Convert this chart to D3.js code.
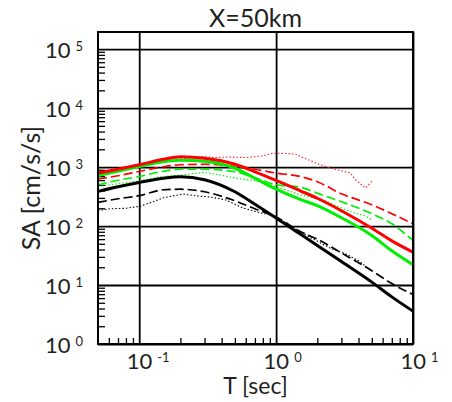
<!DOCTYPE html>
<html>
<head>
<meta charset="utf-8">
<script src="https://cdn.jsdelivr.net/npm/d3@7"></script>
<style>
  body { margin: 0; background: #fff; }
  text { font-family: Lato, "Open Sans", sans-serif; fill: #231f20; }
</style>
</head>
<body>
<div id="chart"></div>
<script>
// Periods for model curves (sec)
const periods = [0.05, 0.07, 0.1, 0.15, 0.2, 0.3, 0.5, 0.7, 1, 1.5, 2, 3, 5, 7, 10];

// Model spectra (cm/s/s)
const redSolid    = [791, 918, 1094, 1355, 1496, 1409, 1115, 832, 593, 396, 296, 182, 92, 56, 36];
const greenSolid  = [721, 849, 1023, 1230, 1304, 1253, 954, 646, 424, 284, 221, 138, 69, 38, 22];
const blackSolid  = [386, 463, 548, 646, 685, 610, 381, 234, 137, 73, 47, 25, 11.2, 6.3, 3.6];
const redDashed   = [627, 713, 842, 1012, 1094, 1115, 1032, 918, 791, 692, 564, 352, 230, 162, 109];
const greenDashed = [501, 597, 693, 849, 918, 918, 832, 659, 501, 455, 360, 258, 162, 109, 57];
const blackDashed = [251, 290, 327, 412, 421, 381, 268, 196, 142, 81, 60, 35, 17.5, 10.6, 6.9];

// Observed spectra (dotted), own period lists
const redDottedT  = [0.05, 0.07, 0.1, 0.15, 0.2, 0.25, 0.29, 0.35, 0.45, 0.6, 0.8, 0.95, 1.2, 1.4, 1.5, 2.1, 2.6, 3.5, 3.8, 4.5, 5.0];
const redDotted   = [760, 880, 1050, 1250, 1380, 1450, 1514, 1450, 1480, 1450, 1550, 1720, 1700, 1650, 1510, 1094, 936, 791, 609, 441, 570];
const greenDottedT = [0.05, 0.061, 0.079, 0.1, 0.142, 0.21, 0.293, 0.359, 0.502, 0.791, 1, 1.5, 2.28, 3.47, 4.47, 5.0];
const greenDotted  = [469, 501, 542, 586, 685, 740, 809, 760, 652, 564, 463, 340, 269, 175, 150, 128];
const blackDottedT = [0.05, 0.061, 0.079, 0.1, 0.12, 0.15, 0.21, 0.256, 0.33, 0.425, 0.574, 0.764, 1, 1.26, 1.57, 2.1, 2.6, 3.2, 4.1, 4.7];
const blackDotted  = [184, 196, 200, 215, 248, 302, 349, 327, 310, 279, 202, 168, 146, 101, 76, 52, 40, 34, 25, 19];

// Tick values
const xDecades = [0.1, 1, 10];
const yDecades = [1, 10, 100, 1000, 10000, 100000];

const margin = { top: 32, right: 39, bottom: 58, left: 98 };
const W = 452, H = 402;
const width = W - margin.left - margin.right;
const height = H - margin.top - margin.bottom;

const svg = d3.select("#chart").append("svg")
    .attr("width", W)
    .attr("height", H);

const g = svg.append("g")
    .attr("transform", `translate(${margin.left},${margin.top})`);

const x = d3.scaleLog().domain([0.05, 10]).range([0, width]);
const y = d3.scaleLog().domain([1, 1.95e5]).range([height, 0]);

// minor tick values (2..9 in each decade)
const minorX = [];
[0.01, 0.1, 1].forEach(d => { for (let k = 2; k <= 9; k++) { const v = d * k; if (v > 0.05 && v < 10) minorX.push(v); } });
const minorY = [];
[1, 10, 100, 1000, 10000, 100000].forEach(d => { for (let k = 2; k <= 9; k++) { const v = d * k; if (v < 1.95e5) minorY.push(v); } });

// Minor ticks inside the frame
g.append("g")
    .call(d3.axisLeft(y).tickValues(minorY).tickSize(-7).tickFormat(""))
    .call(a => a.select(".domain").remove())
    .selectAll("line").attr("stroke", "#000").attr("stroke-width", 1.3);

g.append("g")
    .attr("transform", `translate(0,${height})`)
    .call(d3.axisBottom(x).tickValues(minorX).tickSize(-6).tickFormat(""))
    .call(a => a.select(".domain").remove())
    .selectAll("line").attr("stroke", "#000").attr("stroke-width", 1.3);

// Decade grid lines
g.append("g")
    .call(d3.axisLeft(y).tickValues(yDecades).tickSize(-width).tickFormat(""))
    .call(a => a.select(".domain").remove())
    .selectAll("line").attr("stroke", "#000").attr("stroke-width", 1.8);

g.append("g")
    .call(d3.axisBottom(x).tickValues(xDecades).tickSize(height).tickFormat(""))
    .call(a => a.select(".domain").remove())
    .selectAll("line").attr("stroke", "#000").attr("stroke-width", 1.8);

// Curves
svg.append("defs").append("clipPath").attr("id", "clip")
    .append("rect").attr("width", width).attr("height", height);

const plot = g.append("g").attr("clip-path", "url(#clip)");

const line = d3.line()
    .x(d => x(d[0]))
    .y(d => y(d[1]))
    .curve(d3.curveMonotoneX);

const lineObs = d3.line()
    .x(d => x(d[0]))
    .y(d => y(d[1]));

const series = [
    { T: blackDottedT, v: blackDotted, color: "#000", w: 1.1, dash: "1.5,2", gen: lineObs },
    { T: greenDottedT, v: greenDotted, color: "#00ee00", w: 1.1, dash: "1.5,2", gen: lineObs },
    { T: redDottedT,   v: redDotted,   color: "#ff2020", w: 1.1, dash: "1.5,2", gen: lineObs },
    { T: periods, v: blackDashed, color: "#000", w: 1.7, dash: "9,4", gen: line },
    { T: periods, v: greenDashed, color: "#00ee00", w: 1.7, dash: "9,4", gen: line },
    { T: periods, v: redDashed,   color: "#ff0000", w: 1.7, dash: "9,4", gen: line },
    { T: periods, v: greenSolid,  color: "#00ee00", w: 3, dash: null, gen: line },
    { T: periods, v: redSolid,    color: "#ff0000", w: 3, dash: null, gen: line },
    { T: periods, v: blackSolid,  color: "#000", w: 3, dash: null, gen: line }
];

series.forEach(s => {
    plot.append("path")
        .datum(s.T.map((t, i) => [t, s.v[i]]))
        .attr("fill", "none")
        .attr("stroke", s.color)
        .attr("stroke-width", s.w)
        .attr("stroke-dasharray", s.dash)
        .attr("d", s.gen);
});

// Frame
g.append("rect")
    .attr("width", width)
    .attr("height", height)
    .attr("fill", "none")
    .attr("stroke", "#000")
    .attr("stroke-width", 2);

// Tick labels with superscript exponents
function powerLabel(sel) {
    sel.each(function(d) {
        const t = d3.select(this).text(null);
        t.append("tspan").text("10");
        t.append("tspan")
            .attr("dx", 5)
            .attr("dy", -6.5)
            .style("font-size", "13px")
            .text(Math.round(Math.log10(d)));
    });
}

g.append("g")
    .call(d3.axisLeft(y).tickValues(yDecades).tickSize(0).tickPadding(15))
    .call(a => a.select(".domain").remove())
    .selectAll("text")
    .style("font-size", "22px")
    .attr("dy", "0.38em")
    .call(powerLabel);

g.append("g")
    .attr("transform", `translate(0,${height})`)
    .call(d3.axisBottom(x).tickValues(xDecades).tickSize(0).tickPadding(9))
    .call(a => a.select(".domain").remove())
    .selectAll("text")
    .style("font-size", "22px")
    .attr("text-anchor", "start")
    .attr("x", -13)
    .attr("dy", "0.71em")
    .call(powerLabel);

// Title and axis labels
svg.append("text")
    .attr("x", margin.left + width / 2)
    .attr("y", 27)
    .attr("text-anchor", "middle")
    .style("font-size", "25px")
    .text("X=50km");

svg.append("text")
    .attr("x", margin.left + width / 2)
    .attr("y", 394)
    .attr("text-anchor", "middle")
    .style("font-size", "23px")
    .text("T [sec]");

svg.append("text")
    .attr("transform", "rotate(-90)")
    .attr("x", -188)
    .attr("y", 40)
    .attr("text-anchor", "middle")
    .style("font-size", "25px")
    .text("SA [cm/s/s]");
</script>
</body>
</html>
